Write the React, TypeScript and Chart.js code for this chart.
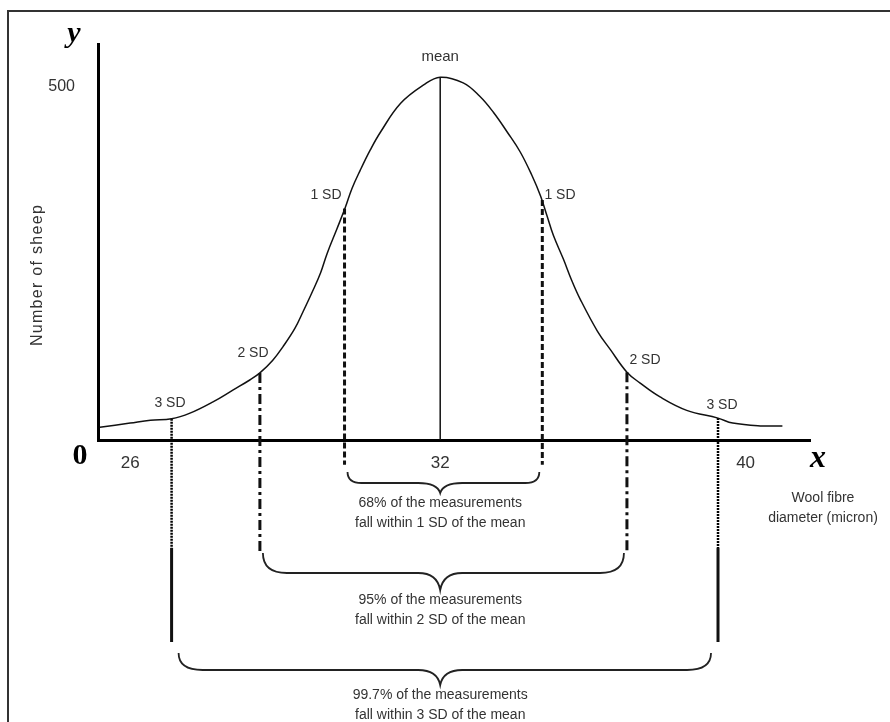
import React, { useEffect, useRef } from "react";
import { Chart, registerables } from "chart.js";
Chart.register(...registerables);

// Curve (x in SD units from the mean, y = number of sheep)
const curveX = [-3.70, -3.37, -3.15, -2.92, -2.72, -2.47, -2.25, -2.07, -1.96, -1.82, -1.71, -1.58, -1.49, -1.39, -1.30, -1.23, -1.12, -1.03, -0.96, -0.87, -0.76, -0.65, -0.43, -0.18, 0,
  0.25, 0.43, 0.58, 0.73, 0.87, 1.00, 1.09, 1.16, 1.23, 1.34, 1.43, 1.52, 1.71, 1.85, 2.03, 2.17, 2.39, 2.68, 3.02, 3.18, 3.48, 3.72];
const curveY = [18, 24, 28, 30, 38, 54, 71, 85, 95, 113, 132, 158, 182, 210, 237, 264, 300, 330, 356, 382, 411, 436, 477, 503, 514,
  506, 487, 464, 436, 408, 374, 346, 318, 290, 256, 226, 200, 154, 128, 96, 81, 61, 42, 31, 24, 20, 20];

// SD marker lines
const sdLabels = ["3 SD", "2 SD", "1 SD", "1 SD", "2 SD", "3 SD"];
const markerX = [-2.92, -1.96, -1.04, 1.11, 2.03, 3.02];
const markerTop = [30, 95, 328, 340, 96, 31];
const sd1Bottom = -35;
const sd2Bottom = -159;
const sd3DotEnd = -153;
const sd3Bottom = -286;
const meanX = 0;
const meanTop = 514;

// Axis ticks
const xTickValues = [-3.37, 0, 3.32];
const xTickLabels = ["26", "32", "40"];
const yTickValues = [500];
const yTickLabels = ["500"];

// Braces
const braceTexts = [
  ["68% of the measurements", "fall within 1 SD of the mean"],
  ["95% of the measurements", "fall within 2 SD of the mean"],
  ["99.7% of the measurements", "fall within 3 SD of the mean"],
];

const SANS = '"Liberation Sans", Arial, sans-serif';
const SERIF = '"Liberation Serif", "Times New Roman", serif';

function vline(x: number, y0: number, y1: number, width: number, dash: number[], color = "#111") {
  return {
    data: [{ x, y: y0 }, { x, y: y1 }],
    borderColor: color,
    borderWidth: width,
    borderDash: dash,
    pointRadius: 0,
    clip: false as any,
    tension: 0,
  };
}

const annotations = {
  id: "annotations",
  beforeDraw(chart: any) {
    const ctx = chart.ctx;
    ctx.save();
    ctx.fillStyle = "#fff";
    ctx.fillRect(0, 0, chart.width, chart.height);
    ctx.strokeStyle = "#333";
    ctx.lineWidth = 2;
    ctx.beginPath();
    ctx.moveTo(8, 722);
    ctx.lineTo(8, 11);
    ctx.lineTo(890, 11);
    ctx.stroke();
    ctx.restore();
  },
  afterDraw(chart: any) {
    const ctx = chart.ctx;
    const xs = chart.scales.x;
    const px = (v: number) => xs.getPixelForValue(v);
    ctx.save();
    const text = (t: string, x: number, y: number, font: string, align: any = "center", color = "#333") => {
      ctx.font = font;
      ctx.fillStyle = color;
      ctx.textAlign = align;
      ctx.textBaseline = "middle";
      ctx.fillText(t, x, y);
    };
    // axis letters
    text("y", 74, 34, `italic bold 30px ${SERIF}`, "center", "#000");
    text("0", 80, 456, `bold 30px ${SERIF}`, "center", "#000");
    text("x", 818, 459, `italic bold 32px ${SERIF}`, "center", "#000");
    // mean
    text("mean", px(meanX), 57, `15px ${SANS}`);
    // SD labels
    const sdPos = [[170, 403], [253, 353], [326, 195], [560, 195], [645, 360], [722, 405]];
    sdLabels.forEach((l, i) => text(l, sdPos[i][0], sdPos[i][1], `14px ${SANS}`));
    // y title
    ctx.save();
    ctx.translate(38, 275);
    ctx.rotate(-Math.PI / 2);
    (ctx as any).letterSpacing = "1.3px";
    text("Number of sheep", 0, 0, `16px ${SANS}`);
    ctx.restore();
    (ctx as any).letterSpacing = "0px";
    // x title
    text("Wool fibre", 823, 498, `14px ${SANS}`);
    text("diameter (micron)", 823, 518, `14px ${SANS}`);

    // braces
    const levels = [[472, 483, 493], [553, 573, 590], [653, 670, 685]];
    const pairs = [[2, 3], [1, 4], [0, 5]];
    const insets = [3, 3, 7];
    ctx.strokeStyle = "#222";
    ctx.lineWidth = 1.8;
    levels.forEach((lv, i) => {
      const x1 = px(markerX[pairs[i][0]]) + insets[i];
      const x2 = px(markerX[pairs[i][1]]) - insets[i];
      const xc = px(meanX);
      const [top, h, tip] = lv;
      const c = i === 0 ? 14 : 24;
      ctx.beginPath();
      ctx.moveTo(x1, top);
      ctx.quadraticCurveTo(x1, h, x1 + c, h);
      ctx.lineTo(xc - 22, h);
      ctx.quadraticCurveTo(xc - 3, h, xc, tip);
      ctx.quadraticCurveTo(xc + 3, h, xc + 22, h);
      ctx.lineTo(x2 - c, h);
      ctx.quadraticCurveTo(x2, h, x2, top);
      ctx.stroke();
      text(braceTexts[i][0], xc, tip + 10, `14px ${SANS}`);
      text(braceTexts[i][1], xc, tip + 30, `14px ${SANS}`);
    });
    ctx.restore();
  },
};

export default function App() {
  const ref = useRef<HTMLCanvasElement | null>(null);
  useEffect(() => {
    if (!ref.current) return;
    const datasets: any[] = [
      {
        data: curveX.map((x, i) => ({ x, y: curveY[i] })),
        borderColor: "#111",
        borderWidth: 1.5,
        pointRadius: 0,
        tension: 0.4,
      },
      vline(meanX, meanTop, 0, 1.5, []),
      vline(markerX[2], markerTop[2], sd1Bottom, 3, [6, 3]),
      vline(markerX[3], markerTop[3], sd1Bottom, 3, [6, 3]),
      vline(markerX[1], markerTop[1], sd2Bottom, 3, [10, 4, 3, 4]),
      vline(markerX[4], markerTop[4], sd2Bottom, 3, [10, 4, 3, 4]),
      vline(markerX[0], markerTop[0], sd3DotEnd, 2.5, [2, 1], "#000"),
      vline(markerX[5], markerTop[5], sd3DotEnd, 2.5, [2, 1], "#000"),
      vline(markerX[0], sd3DotEnd, sd3Bottom, 3, []),
      vline(markerX[5], sd3DotEnd, sd3Bottom, 3, []),
    ];
    const chart = new Chart(ref.current, {
      type: "line",
      data: { datasets },
      options: {
        responsive: false,
        animation: false,
        layout: { padding: { left: 0, top: 44, right: 80, bottom: 0 }, autoPadding: false } as any,
        plugins: { legend: { display: false }, tooltip: { enabled: false } },
        elements: { point: { radius: 0 } },
        scales: {
          x: {
            type: "linear",
            min: -3.72,
            max: 4.02,
            grid: { display: false, drawTicks: false },
            border: { display: true, width: 3, color: "#000" },
            afterFit: (s: any) => { s.height = 282; },
            afterBuildTicks: (s: any) => { s.ticks = xTickValues.map((v) => ({ value: v })); },
            ticks: {
              padding: 13,
              autoSkip: false,
              maxRotation: 0,
              color: "#333",
              font: { family: SANS, size: 17 },
              callback: (v: any) => xTickLabels[xTickValues.indexOf(Number(v))],
            },
          },
          y: {
            type: "linear",
            min: 0,
            max: 561,
            grid: { display: false, drawTicks: false },
            border: { display: true, width: 3, color: "#000" },
            afterFit: (s: any) => { s.width = 98; },
            afterBuildTicks: (s: any) => { s.ticks = yTickValues.map((v) => ({ value: v })); },
            ticks: {
              padding: 23,
              color: "#333",
              font: { family: SANS, size: 16 },
              callback: (v: any) => yTickLabels[yTickValues.indexOf(Number(v))],
            },
          },
        },
      } as any,
      plugins: [annotations],
    });
    return () => chart.destroy();
  }, []);
  return (
    <div style={{ position: "absolute", left: 0, top: 0, width: 890, height: 722 }}>
      <canvas ref={ref} width={890} height={722} style={{ display: "block" }} />
    </div>
  );
}
